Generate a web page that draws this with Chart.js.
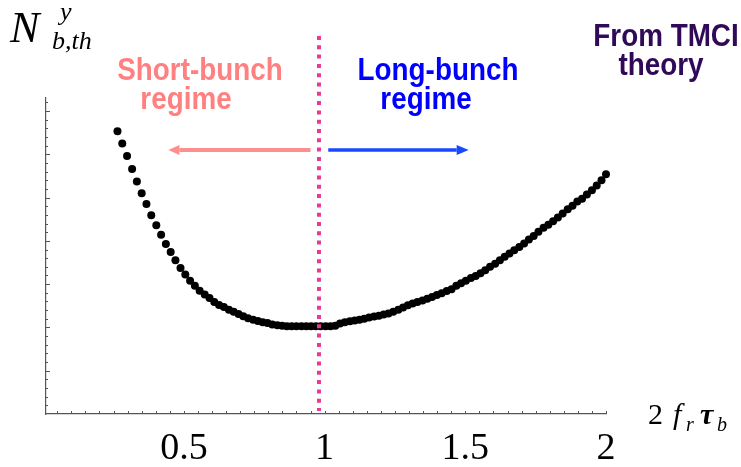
<!DOCTYPE html>
<html>
<head>
<meta charset="utf-8">
<script src="https://cdn.jsdelivr.net/npm/chart.js@4/dist/chart.umd.min.js"></script>
<style>
  html, body { margin: 0; padding: 0; background: #ffffff; }
  canvas { display: block; }
</style>
</head>
<body>
<canvas id="chart" width="741" height="467"></canvas>
<script>
// Normalised bunch length 2 f_r tau_b (horizontal axis)
const bunchLength = [
  0.264, 0.281, 0.298, 0.316, 0.333, 0.350, 0.367, 0.384, 0.402, 0.419,
  0.436, 0.453, 0.470, 0.488, 0.505, 0.522, 0.539, 0.556, 0.574, 0.591,
  0.608, 0.625, 0.642, 0.660, 0.677, 0.694, 0.711, 0.728, 0.746, 0.763,
  0.780, 0.797, 0.814, 0.832, 0.849, 0.866, 0.883, 0.900, 0.918, 0.935,
  0.952, 0.969, 0.986, 1.004, 1.021, 1.038, 1.055, 1.072, 1.090, 1.107,
  1.124, 1.141, 1.158, 1.176, 1.193, 1.210, 1.227, 1.244, 1.262, 1.279,
  1.296, 1.313, 1.330, 1.348, 1.365, 1.382, 1.399, 1.416, 1.434, 1.451,
  1.468, 1.485, 1.502, 1.520, 1.537, 1.554, 1.571, 1.588, 1.606, 1.623,
  1.640, 1.657, 1.674, 1.692, 1.709, 1.726, 1.743, 1.760, 1.778, 1.795,
  1.812, 1.829, 1.846, 1.864, 1.881, 1.898, 1.915, 1.932, 1.950, 1.967,
  1.984, 2.000
];

// TMCI intensity threshold N_b,th (arbitrary units)
const threshold = [
  6.53, 6.25, 5.96, 5.66, 5.37, 5.10, 4.85, 4.59, 4.36, 4.14,
  3.93, 3.74, 3.55, 3.37, 3.22, 3.08, 2.96, 2.85, 2.76, 2.68,
  2.59, 2.52, 2.47, 2.41, 2.36, 2.31, 2.26, 2.21, 2.18, 2.15,
  2.12, 2.10, 2.07, 2.05, 2.04, 2.03, 2.03, 2.03, 2.03, 2.03,
  2.03, 2.03, 2.03, 2.03, 2.03, 2.04, 2.09, 2.12, 2.14, 2.16,
  2.18, 2.20, 2.23, 2.25, 2.27, 2.30, 2.32, 2.36, 2.41, 2.46,
  2.51, 2.55, 2.59, 2.62, 2.66, 2.70, 2.75, 2.79, 2.84, 2.88,
  2.96, 3.02, 3.08, 3.14, 3.19, 3.25, 3.32, 3.40, 3.47, 3.55,
  3.63, 3.71, 3.78, 3.86, 3.94, 4.03, 4.11, 4.21, 4.30, 4.37,
  4.45, 4.54, 4.63, 4.73, 4.81, 4.91, 4.97, 5.07, 5.17, 5.28,
  5.40, 5.54
];

// Labelled ticks on the horizontal axis
const xTickLabels = [0.5, 1, 1.5, 2];

// Boundary between the short- and long-bunch regimes
const regimeBoundary = 0.98;

const points = bunchLength.map((x, i) => ({ x: x, y: threshold[i] }));

const SERIF = '"Liberation Serif", "Times New Roman", serif';
const SANS = '"Liberation Sans", Arial, sans-serif';

// Small inward tick marks on both axes
const axisTicks = {
  id: 'axisTicks',
  beforeDatasetsDraw(chart) {
    const { ctx, chartArea, scales } = chart;
    const xs = scales.x, ys = scales.y;
    ctx.save();
    ctx.strokeStyle = '#555555';
    ctx.lineWidth = 1;
    ctx.beginPath();
    for (let k = 1; k <= 40; k++) {
      const px = Math.round(xs.getPixelForValue(k * 0.05)) + 0.5;
      ctx.moveTo(px, chartArea.bottom);
      ctx.lineTo(px, chartArea.bottom - 3);
    }
    for (let k = 1; k <= 36; k++) {
      const v = k * 0.2;
      const py = Math.round(ys.getPixelForValue(v)) + 0.5;
      const major = Math.abs(v - Math.round(v)) < 1e-6;
      ctx.moveTo(chartArea.left, py);
      ctx.lineTo(chartArea.left + (major ? 4 : 2), py);
    }
    ctx.stroke();
    ctx.restore();
  }
};

function arrow(ctx, x1, x2, y, color, width, headLen, headHalf) {
  const dir = Math.sign(x2 - x1);
  ctx.save();
  ctx.strokeStyle = color;
  ctx.fillStyle = color;
  ctx.lineWidth = width;
  ctx.beginPath();
  ctx.moveTo(x1, y);
  ctx.lineTo(x2 - dir * headLen, y);
  ctx.stroke();
  ctx.beginPath();
  ctx.moveTo(x2, y);
  ctx.lineTo(x2 - dir * headLen, y - headHalf);
  ctx.lineTo(x2 - dir * headLen, y + headHalf);
  ctx.closePath();
  ctx.fill();
  ctx.restore();
}

// Bold sans label, slightly condensed horizontally
function label(ctx, text, cx, baseline, color) {
  ctx.save();
  ctx.translate(cx, baseline);
  ctx.scale(0.87, 1);
  ctx.font = 'bold 32px ' + SANS;
  ctx.textAlign = 'center';
  ctx.textBaseline = 'alphabetic';
  ctx.fillStyle = color;
  ctx.fillText(text, 0, 0);
  ctx.restore();
}

// Regime boundary, arrows and text labels
const annotations = {
  id: 'annotations',
  afterDatasetsDraw(chart) {
    const { ctx, chartArea, scales } = chart;
    const xs = scales.x, ys = scales.y;

    // dotted boundary line
    const bx = xs.getPixelForValue(regimeBoundary);
    ctx.save();
    ctx.strokeStyle = '#e8389c';
    ctx.lineWidth = 4;
    ctx.setLineDash([4, 5.3]);
    ctx.beginPath();
    ctx.moveTo(bx, 36);
    ctx.lineTo(bx, chartArea.bottom - 3);
    ctx.stroke();
    ctx.restore();

    // regime arrows
    const ay = ys.getPixelForValue(6.1);
    arrow(ctx, xs.getPixelForValue(0.95), xs.getPixelForValue(0.445), ay, '#ff8e8e', 4, 11, 5);
    arrow(ctx, xs.getPixelForValue(1.013), xs.getPixelForValue(1.512), ay, '#1848ff', 3.5, 12, 5);

    label(ctx, 'Short-bunch', 200, 80, '#ff8080');
    label(ctx, 'regime', 186, 109, '#ff8080');
    label(ctx, 'Long-bunch', 438, 80, '#0000ff');
    label(ctx, 'regime', 426, 109, '#0000ff');
    label(ctx, 'From TMCI', 666, 46, '#300a58');
    label(ctx, 'theory', 661, 75, '#300a58');

    // axis titles
    ctx.save();
    ctx.textAlign = 'left';
    ctx.textBaseline = 'alphabetic';
    ctx.fillStyle = '#000000';
    ctx.font = 'italic 44px ' + SERIF;
    ctx.fillText('N', 10, 42);
    ctx.font = 'italic 26px ' + SERIF;
    ctx.fillText('y', 60, 20);
    ctx.fillText('b,th', 52, 49);

    ctx.font = '30px ' + SERIF;
    ctx.fillText('2', 648, 424);
    ctx.font = 'italic 30px ' + SERIF;
    ctx.fillText('f', 673, 424);
    ctx.font = 'italic 20px ' + SERIF;
    ctx.fillText('r', 686, 431);
    ctx.font = 'bold italic 30px ' + SERIF;
    ctx.fillText('\u03c4', 700, 424);
    ctx.font = 'italic 20px ' + SERIF;
    ctx.fillText('b', 717, 431);
    ctx.restore();
  }
};

new Chart(document.getElementById('chart'), {
  type: 'scatter',
  data: {
    datasets: [{
      data: points,
      pointRadius: 4,
      pointBackgroundColor: '#000000',
      pointBorderWidth: 0,
      showLine: false,
      clip: false
    }]
  },
  options: {
    responsive: false,
    devicePixelRatio: 1,
    animation: false,
    layout: { padding: { top: 98, right: 135, left: 0, bottom: 0 } },
    plugins: { legend: { display: false }, tooltip: { enabled: false } },
    scales: {
      x: {
        type: 'linear',
        min: 0.01,
        max: 2.0,
        grid: { display: false },
        border: { display: true, color: '#555555', width: 1.2 },
        afterBuildTicks(scale) { scale.ticks = xTickLabels.map(v => ({ value: v })); },
        afterFit(scale) { scale.height = 53; },
        ticks: {
          color: '#000000',
          padding: 4,
          maxRotation: 0,
          autoSkip: false,
          font: { family: SERIF, size: 38 },
          callback: (value) => String(value)
        }
      },
      y: {
        type: 'linear',
        min: 0,
        max: 7.3,
        grid: { display: false },
        border: { display: true, color: '#555555', width: 1.2 },
        ticks: { display: false },
        afterFit(scale) { scale.width = 46; }
      }
    }
  },
  plugins: [axisTicks, annotations]
});
</script>
</body>
</html>
